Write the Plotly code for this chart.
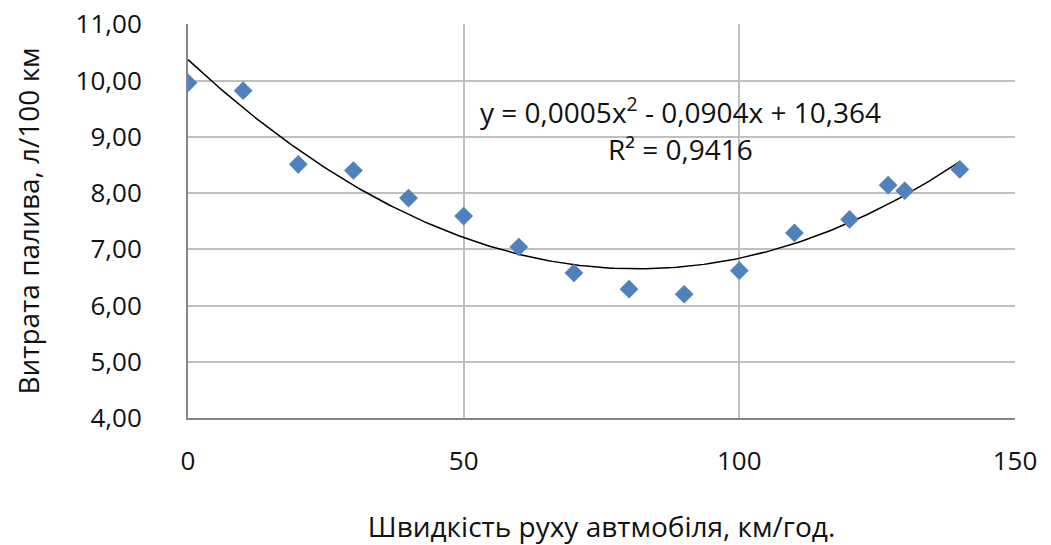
import numpy as np
import plotly.graph_objects as go

speed = [0, 10, 20, 30, 40, 50, 60, 70, 80, 90, 100, 110, 120, 127, 130, 140]
fuel = [9.96, 9.82, 8.51, 8.40, 7.91, 7.59, 7.04, 6.58, 6.29, 6.20, 6.62, 7.29, 7.53, 8.14, 8.04, 8.42]

x_ticks = [0, 50, 100, 150]
y_ticks = [4, 5, 6, 7, 8, 9, 10, 11]
y_tick_text = ["4,00", "5,00", "6,00", "7,00", "8,00", "9,00", "10,00", "11,00"]

eq_text = "y = 0,0005x<sup>2</sup> - 0,0904x + 10,364"
r2_text = "R² = 0,9416"

coef = np.polyfit(speed, fuel, 2)
xs = np.linspace(min(speed), max(speed), 200)
ys = np.polyval(coef, xs)

FONT = "Open Sans, DejaVu Sans, sans-serif"
W, H = 1051, 545
TOP, BOTTOM = 24, 418
LEFT, RIGHT = 188, 1015
PH = BOTTOM - TOP

fig = go.Figure()
fig.add_trace(go.Scatter(x=xs, y=ys, mode="lines",
                         line=dict(color="black", width=1.5), showlegend=False, hoverinfo="skip"))
fig.add_trace(go.Scatter(x=speed, y=fuel, mode="markers",
                         marker=dict(symbol="diamond", size=14, color="#4F81BD",
                                     line=dict(color="#4A7AB5", width=0.5)),
                         showlegend=False))

fig.update_layout(
    width=W, height=H,
    margin=dict(l=LEFT, r=W - RIGHT, t=TOP, b=H - BOTTOM),
    plot_bgcolor="white", paper_bgcolor="white",
    font=dict(family=FONT, size=26, color="#111111"),
    xaxis=dict(range=[0, 150.01], tickvals=x_ticks, ticktext=[str(v) for v in x_ticks],
               showgrid=True, gridcolor="#BFBFBF", gridwidth=2,
               showline=True, linecolor="#868686", linewidth=2,
               zeroline=False, ticks="", ticklabelstandoff=19, automargin=False,
               tickfont=dict(size=26), ticklabeloverflow="allow",
               title=dict(text="Швидкість руху автмобіля, км/год.", standoff=43,
                          font=dict(size=28))),
    yaxis=dict(range=[4, 11.005], tickvals=y_ticks, ticktext=y_tick_text,
               showgrid=True, gridcolor="#BFBFBF", gridwidth=2,
               showline=True, linecolor="#868686", linewidth=2,
               zeroline=False, ticks="", ticklabelstandoff=39, automargin=False,
               tickfont=dict(size=26), ticklabeloverflow="allow",
               title=dict(text="Витрата палива, л/100 км", standoff=28,
                          font=dict(size=28))),
)
fig.add_annotation(x=0.595, y=1 - (110 - TOP) / PH, xref="paper", yref="paper",
                   yanchor="middle", xanchor="center",
                   text=eq_text, showarrow=False, font=dict(size=28, family=FONT))
fig.add_annotation(x=0.595, y=1 - (149 - TOP) / PH, xref="paper", yref="paper",
                   yanchor="middle", xanchor="center",
                   text=r2_text, showarrow=False, font=dict(size=28, family=FONT))

fig.write_html("out.html", config={"displayModeBar": False},
               post_script="document.body.style.margin='0';")
